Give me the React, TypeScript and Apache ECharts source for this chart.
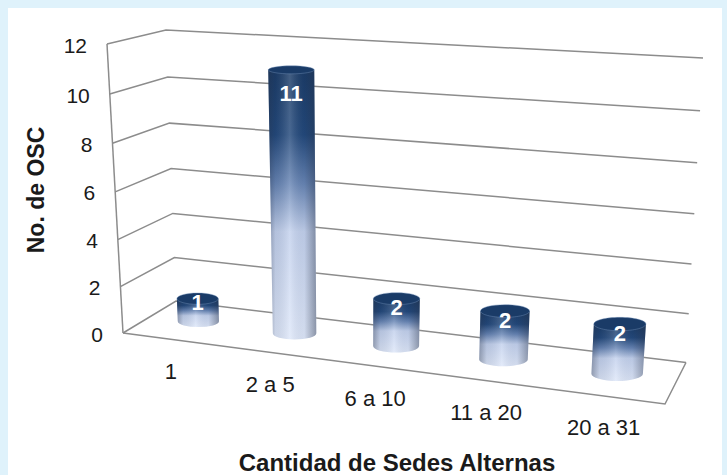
import React, { useEffect, useRef } from "react";
import * as echarts from "echarts";

const categories = ["1", "2 a 5", "6 a 10", "11 a 20", "20 a 31"];
const oscValues = [1, 11, 2, 2, 2];
const yTicks = [0, 2, 4, 6, 8, 10, 12];
const yMax = 12;
const xTitle = "Cantidad de Sedes Alternas";
const yTitle = "No. de OSC";

// Screen corners of the 3D box (layout)
const FL0 = [123, 333];
const FL1 = [107, 44];
const BL0 = [176, 301];
const BL1 = [166, 30];
const BR0 = [686, 362.5];
const BR1 = [703, 58];
const FR0 = [665, 404];
const FR1 = [690, 79];
const KX = 0.87;
const KV = 0.955;
const ZC = 0.55;
const DT = 0.044;
const DZ = 0.18;

const FONT = '"Liberation Sans", Arial, Helvetica, sans-serif';

function persp(t: number, k: number) {
  return (t * k) / (1 - t + t * k);
}
function lerp(a: number[], b: number[], t: number) {
  return [a[0] + (b[0] - a[0]) * t, a[1] + (b[1] - a[1]) * t];
}
function project(t: number, u: number, z: number) {
  const s = persp(t, KX);
  const sv = persp(u, KV);
  const fl = lerp(FL0, FL1, sv);
  const fr = lerp(FR0, FR1, sv);
  const bl = lerp(BL0, BL1, sv);
  const br = lerp(BR0, BR1, sv);
  const f = lerp(fl, fr, s);
  const b = lerp(bl, br, s);
  return lerp(f, b, z);
}

export default function App() {
  const ref = useRef<HTMLDivElement>(null);
  useEffect(() => {
    document.body.style.margin = "0";
    const chart = echarts.init(ref.current!, null, { renderer: "svg" });
    const gray = "#8c8c8c";

    const gridSeries = {
      type: "custom",
      coordinateSystem: "cartesian2d",
      clip: false,
      z: 2,
      data: yTicks.map((v) => [0, v]),
      renderItem: (params: any, api: any) => {
        const cs = params.coordSys;
        const v = api.value(1);
        const p = api.coord([0, v]);
        const u = (cs.y + cs.height - p[1]) / cs.height;
        const sv = persp(u, KV);
        const fl = lerp(FL0, FL1, sv);
        const bl = lerp(BL0, BL1, sv);
        const br = lerp(BR0, BR1, sv);
        const children: any[] = [
          {
            type: "polyline",
            shape: { points: [fl, bl, br] },
            style: { stroke: gray, lineWidth: 1.5, fill: null },
          },
          {
            type: "text",
            style: {
              text: String(v),
              x: fl[0] - 20,
              y: fl[1] + 1,
              align: "right",
              verticalAlign: "middle",
              font: `21px ${FONT}`,
              fill: "#1a1a1a",
            },
          },
        ];
        if (params.dataIndex === 0) {
          const pt = api.coord([0, yMax]);
          const ut = (cs.y + cs.height - pt[1]) / cs.height;
          const svt = persp(ut, KV);
          const flTop = lerp(FL0, FL1, svt);
          const fr = lerp(FR0, FR1, sv);
          children.push(
            {
              type: "line",
              shape: { x1: fl[0], y1: fl[1], x2: flTop[0], y2: flTop[1] },
              style: { stroke: gray, lineWidth: 1.5 },
            },
            {
              type: "polyline",
              shape: { points: [fl, fr, br] },
              style: { stroke: gray, lineWidth: 1.5, fill: null },
            }
          );
        }
        return { type: "group", children };
      },
    };

    const cylSeries = {
      type: "custom",
      coordinateSystem: "cartesian2d",
      clip: false,
      z: 5,
      data: oscValues.map((v, i) => [i, v]),
      renderItem: (params: any, api: any) => {
        const cs = params.coordSys;
        const i = api.value(0);
        const v = api.value(1);
        const c0 = api.coord([i, 0]);
        const c1 = api.coord([i, v]);
        const t = (c0[0] - cs.x) / cs.width;
        const u0 = (cs.y + cs.height - c0[1]) / cs.height;
        const u1 = (cs.y + cs.height - c1[1]) / cs.height;
        const B = project(t, u0, ZC);
        const T = project(t, u1, ZC);
        const rxB = (project(t + DT, u0, ZC)[0] - project(t - DT, u0, ZC)[0]) / 2;
        const rxT = (project(t + DT, u1, ZC)[0] - project(t - DT, u1, ZC)[0]) / 2;
        const ryB = Math.max((project(t, u0, ZC - DZ)[1] - project(t, u0, ZC + DZ)[1]) / 2, 4);
        const ryT = Math.max((project(t, u1, ZC - DZ)[1] - project(t, u1, ZC + DZ)[1]) / 2, 4);
        const body =
          `M ${T[0] - rxT} ${T[1]} L ${B[0] - rxB} ${B[1]} ` +
          `A ${rxB} ${ryB} 0 0 0 ${B[0] + rxB} ${B[1]} ` +
          `L ${T[0] + rxT} ${T[1]} Z`;
        const h = B[1] - T[1];
        const F = project(t, u0, 0);
        return {
          type: "group",
          children: [
            {
              type: "path",
              shape: { pathData: body },
              style: {
                fill: {
                  type: "linear", x: 0, y: 0, x2: 0, y2: 1,
                  colorStops: [
                    { offset: 0, color: "#193a66" },
                    { offset: 0.24, color: "#21477a" },
                    { offset: 0.42, color: "#6583b3" },
                    { offset: 0.6, color: "#c3d1ed" },
                    { offset: 1, color: "#dee7f9" },
                  ],
                },
              },
            },
            {
              type: "path",
              shape: { pathData: body },
              style: {
                fill: {
                  type: "linear", x: 0, y: 0, x2: 1, y2: 0,
                  colorStops: [
                    { offset: 0, color: "rgba(40,50,70,0.40)" },
                    { offset: 0.15, color: "rgba(40,50,70,0.10)" },
                    { offset: 0.45, color: "rgba(255,255,255,0.18)" },
                    { offset: 0.75, color: "rgba(40,50,70,0.06)" },
                    { offset: 1, color: "rgba(40,50,70,0.45)" },
                  ],
                },
              },
            },
            {
              type: "ellipse",
              shape: { cx: T[0], cy: T[1], rx: rxT, ry: ryT },
              style: { fill: "#1a3b67", stroke: "rgba(120,150,190,0.5)", lineWidth: 0.8 },
            },
            {
              type: "text",
              style: {
                text: String(v),
                x: T[0],
                y: T[1] + Math.min(0.19 * h, 24),
                align: "center",
                verticalAlign: "middle",
                font: `bold 22px ${FONT}`,
                fill: "#ffffff",
              },
            },
            {
              type: "text",
              style: {
                text: categories[params.dataIndex],
                x: F[0],
                y: F[1] + 32,
                align: "center",
                verticalAlign: "middle",
                font: `22px ${FONT}`,
                fill: "#1a1a1a",
              },
            },
          ],
        };
      },
    };

    chart.setOption({
      animation: false,
      backgroundColor: "#dff2fb",
      grid: { left: 0, top: 0, width: 500, height: 400, show: false },
      xAxis: { type: "category", data: categories, show: false },
      yAxis: { type: "value", min: 0, max: yMax, interval: 2, show: false },
      graphic: [
        {
          type: "rect",
          shape: { x: 8, y: 8, width: 714, height: 470 },
          style: { fill: "#ffffff" },
          z: -10,
        },
        {
          type: "text",
          x: 36,
          y: 190,
          rotation: Math.PI / 2,
          style: {
            text: yTitle,
            align: "center",
            verticalAlign: "middle",
            font: `bold 23px ${FONT}`,
            fill: "#1a1a1a",
          },
        },
        {
          type: "text",
          x: 397,
          y: 462,
          style: {
            text: xTitle,
            align: "center",
            verticalAlign: "middle",
            font: `bold 24px ${FONT}`,
            fill: "#1a1a1a",
          },
        },
      ],
      series: [gridSeries, cylSeries],
    });
    return () => chart.dispose();
  }, []);
  return <div ref={ref} style={{ width: 727, height: 475 }} />;
}
